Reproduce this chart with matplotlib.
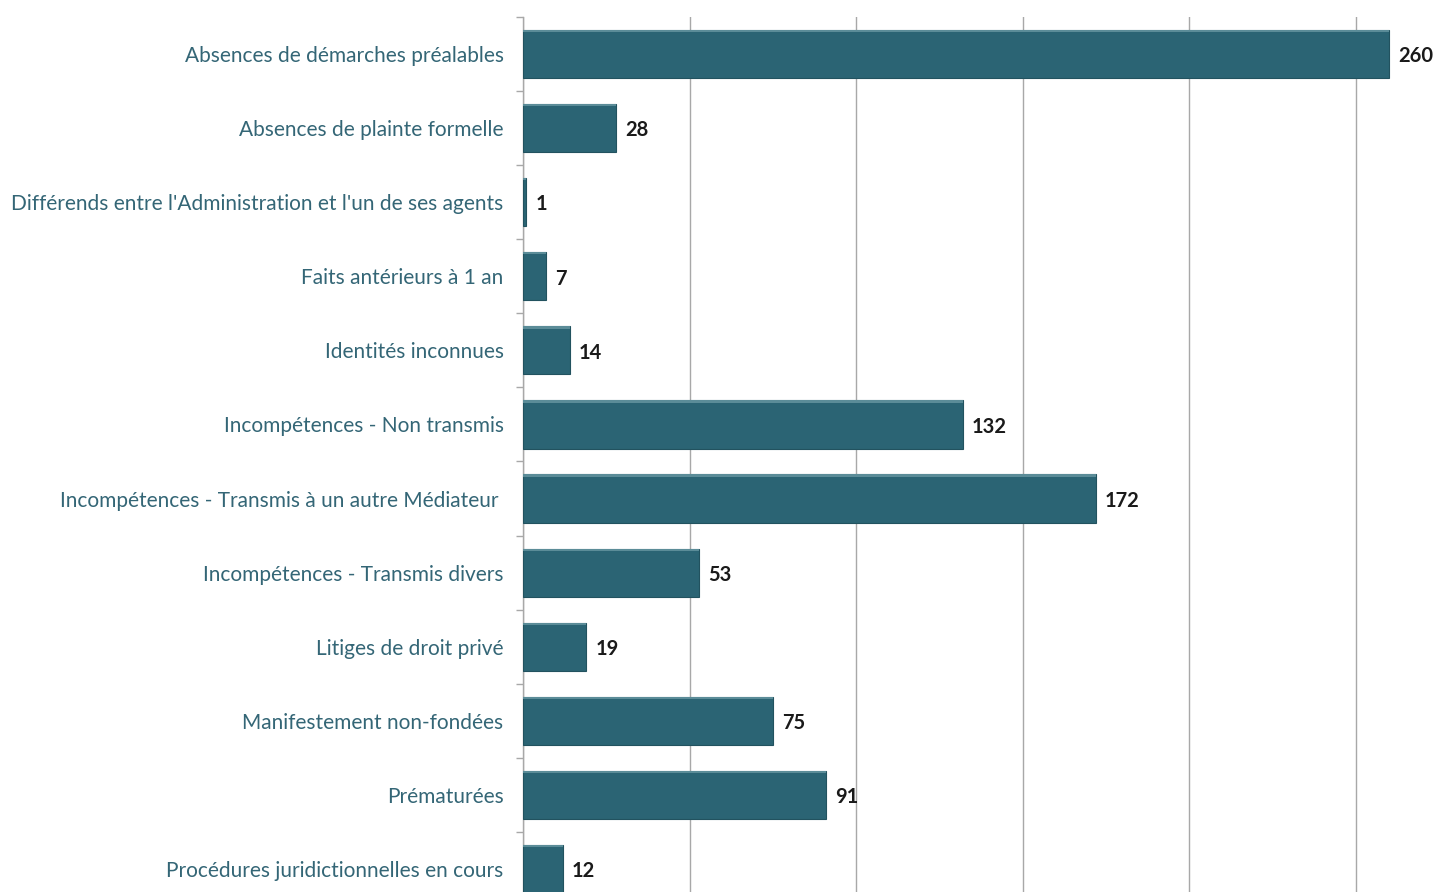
import matplotlib.pyplot as plt
import numpy as np

categories = [
    "Absences de démarches préalables",
    "Absences de plainte formelle",
    "Différends entre l'Administration et l'un de ses agents",
    "Faits antérieurs à 1 an",
    "Identités inconnues",
    "Incompétences - Non transmis",
    "Incompétences - Transmis à un autre Médiateur ",
    "Incompétences - Transmis divers",
    "Litiges de droit privé",
    "Manifestement non-fondées",
    "Prématurées",
    "Procédures juridictionnelles en cours",
]
values = [260, 28, 1, 7, 14, 132, 172, 53, 19, 75, 91, 12]

plt.rcParams['font.family'] = ['Lato', 'DejaVu Sans']

W, H = 1437, 892
fig = plt.figure(figsize=(W / 100, H / 100), dpi=100)
fig.patch.set_facecolor('white')

left_px, top_px, bottom_px, right_px = 523, 17, 906, 1522
ax = fig.add_axes([left_px / W, 1 - bottom_px / H,
                   (right_px - left_px) / W, (bottom_px - top_px) / H])

y = np.arange(len(categories))
bar_h = 0.65
bar_color = '#2b6474'

ax.barh(y, values, height=bar_h, color=bar_color, edgecolor='#22525f',
        linewidth=0.8, zorder=3)
# subtle bevel along the top of each bar
ax.barh(y - bar_h / 2 + 0.015, values, height=0.03, color='#5b8c98',
        linewidth=0, zorder=4)

for yi, v in zip(y, values):
    ax.text(v + 2.7, yi + 0.03, str(v), va='center', ha='left', fontsize=14.5,
            fontweight='bold', color='#1a1a1a', zorder=5)

ax.set_xlim(0, 300)
ax.set_ylim(len(categories) - 0.5, -0.5)
ax.set_xticks(np.arange(0, 301, 50))
ax.xaxis.grid(True, color='#a8a8a8', linewidth=1.0, zorder=0)
ax.tick_params(axis='x', length=0, labelbottom=False)

ax.set_yticks(y)
ax.set_yticklabels(categories, fontsize=15, color='#346676')
ax.tick_params(axis='y', which='major', length=0, pad=14)
ax.set_yticks(np.arange(-0.5, len(categories), 1), minor=True)
ax.tick_params(axis='y', which='minor', length=5, color='#a8a8a8', width=1)

for s in ['top', 'right', 'bottom']:
    ax.spines[s].set_visible(False)
ax.spines['left'].set_color('#a8a8a8')
ax.spines['left'].set_linewidth(1.0)

fig.savefig('out.png', dpi=100, facecolor='white')
